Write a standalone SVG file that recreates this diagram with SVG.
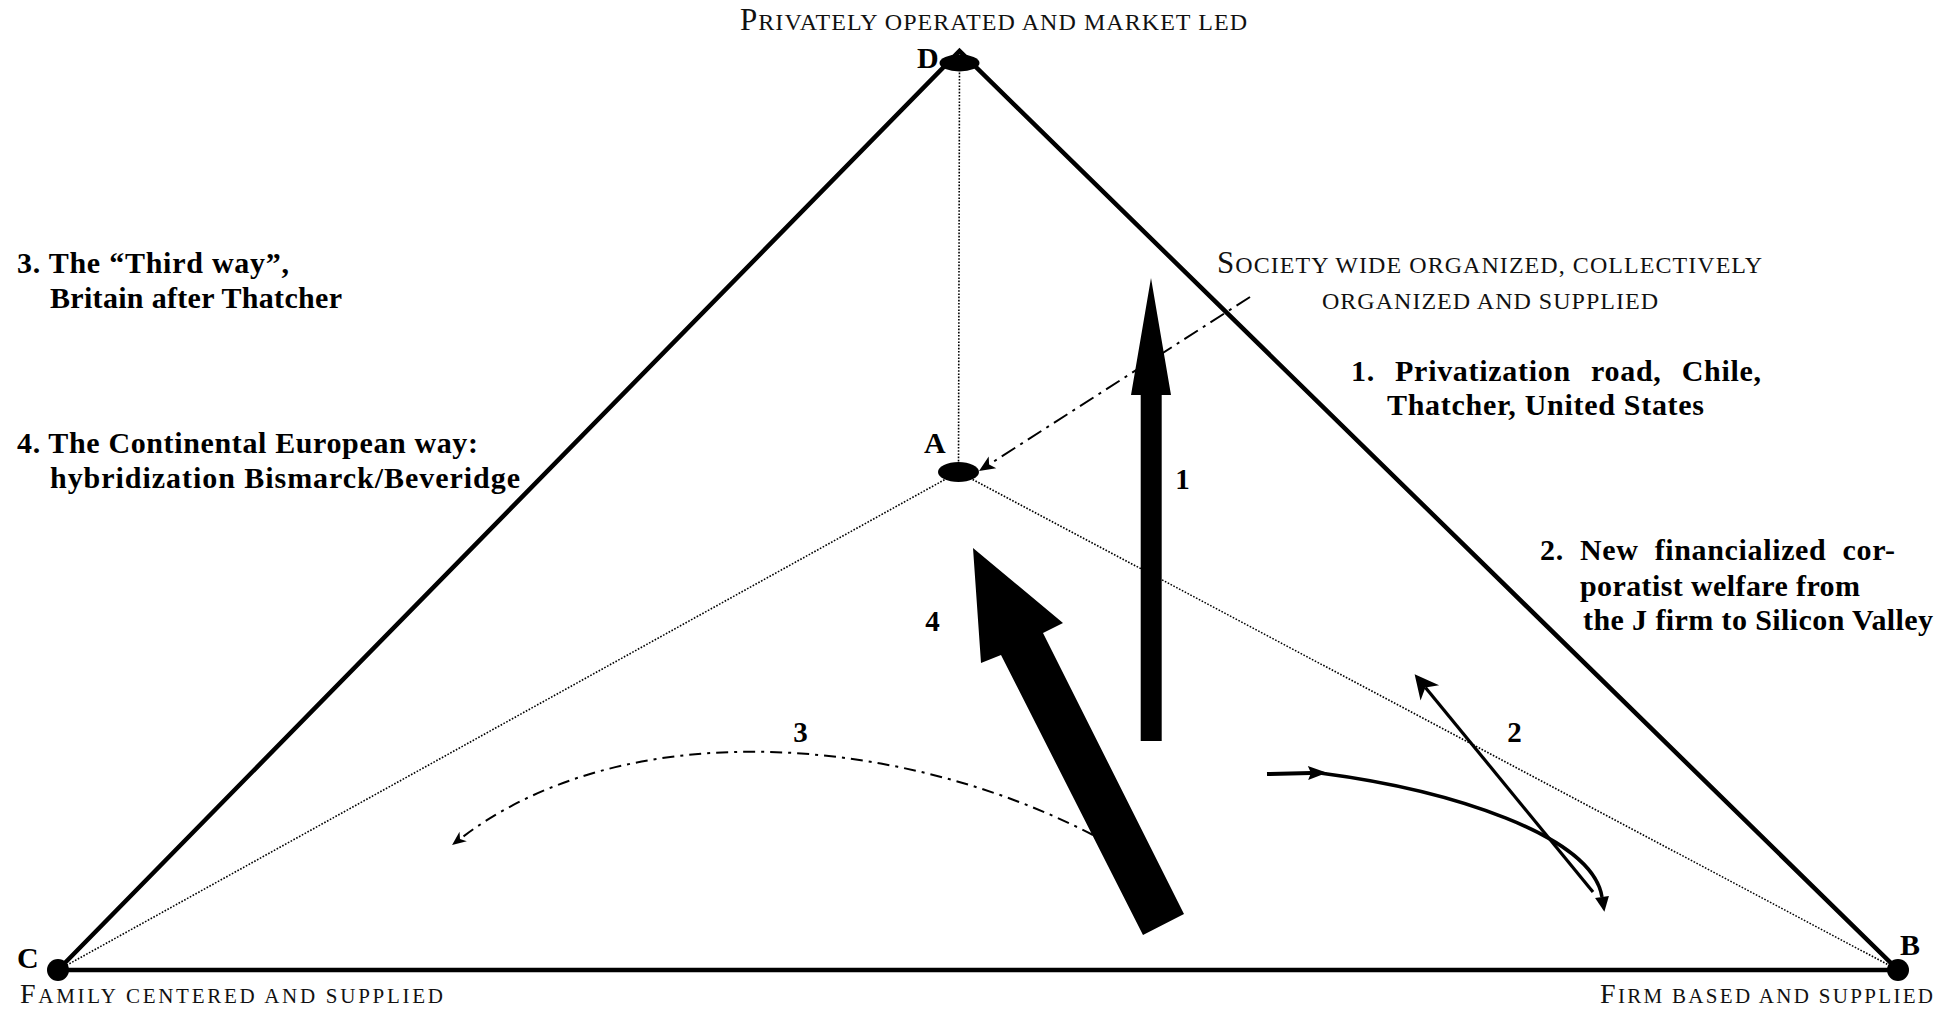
<svg xmlns="http://www.w3.org/2000/svg" width="1959" height="1010" viewBox="0 0 1959 1010">
<style>
.edge{stroke:#000;stroke-width:4.5;fill:none;stroke-linejoin:miter;stroke-miterlimit:10}
.dot{stroke:#000;stroke-width:1.6;stroke-dasharray:1.6 1.6;fill:none}
.dd{stroke:#000;stroke-width:2;fill:none}
.solid{stroke:#000;fill:none}
.big{fill:#000;stroke:none}
.node{fill:#000;stroke:none}
.lbl{font-family:"Liberation Serif","Times New Roman",serif;font-weight:bold;font-size:30px;fill:#000}
.num{font-family:"Liberation Serif","Times New Roman",serif;font-weight:bold;font-size:29px;fill:#000;text-anchor:middle}
.sc{font-family:"Liberation Serif","Times New Roman",serif;fill:#111}
.head{fill:#000;stroke:none}
</style>
<defs>
<marker id="mA" markerUnits="userSpaceOnUse" orient="auto" viewBox="-1 -8 18 16" markerWidth="18" markerHeight="16" refX="4" refY="0"><path class="head" d="M16,0 L0,-7 L4,0 L0,7 Z"/></marker>
<marker id="m3" markerUnits="userSpaceOnUse" orient="auto" viewBox="-1 -7 16 14" markerWidth="16" markerHeight="14" refX="4" refY="0"><path class="head" d="M14,0 L0,-6 L4,0 L0,6 Z"/></marker>
<marker id="m2" markerUnits="userSpaceOnUse" orient="auto" viewBox="-1 -13 26 26" markerWidth="26" markerHeight="26" refX="7" refY="0"><path class="head" d="M24,0 L0,-12 L7,0 L0,12 Z"/></marker>
<marker id="mH" markerUnits="userSpaceOnUse" orient="auto" viewBox="-1 -8 21 16" markerWidth="21" markerHeight="16" refX="3" refY="0"><path class="head" d="M19,0 L0,-7 L3,0 L0,7 Z"/></marker>
<marker id="mC" markerUnits="userSpaceOnUse" orient="auto" viewBox="-1 -8 17 16" markerWidth="17" markerHeight="16" refX="0" refY="0"><path class="head" d="M15,0 L0,-7 L0,7 Z"/></marker>
</defs>
<rect width="1959" height="1010" fill="#fff"/>

<g id="connectors">
  <path class="edge" d="M58,970 L959.5,51 L1898,970 Z"/>
  <line class="dot" x1="959.5" y1="63" x2="958.5" y2="472"/>
  <line class="dot" x1="958.5" y1="472" x2="58" y2="970"/>
  <line class="dot" x1="958.5" y1="472" x2="1898" y2="970"/>
  <line class="dd" x1="1250" y1="297" x2="989.1" y2="464.5" stroke-dasharray="16 6 3 6" marker-end="url(#mA)"/>
  <polygon id="arrow1" class="big" points="1140.7,741 1140.7,395 1131,395 1151,278 1171,395 1161.7,395 1161.7,741"/>
  <polygon id="arrow4" class="big" points="973,548 1063,623 1043,633 1184,914 1143,935 1001,655 981,663"/>
  <path id="arrow3" class="dd" d="M1093,835 C900,735 625,712 460,839" stroke-dasharray="12 6 3 6" marker-end="url(#m3)"/>
  <line id="arrow2" class="solid" stroke-width="3.2" x1="1593" y1="892" x2="1425.4" y2="687.4" marker-end="url(#m2)"/>
  <line class="solid" stroke-width="4" x1="1267" y1="774" x2="1311" y2="773" marker-end="url(#mH)"/>
  <path class="solid" stroke-width="3.5" d="M1320,773 C1450,790 1592,835 1602,897" marker-end="url(#mC)"/>
</g>

<g id="node-D">
  <ellipse class="node" cx="959.5" cy="63" rx="20" ry="8.5"/>
  <text class="lbl" x="917" y="68" font-size="29">D</text>
</g>
<g id="node-A">
  <ellipse class="node" cx="958.5" cy="472" rx="20.5" ry="10"/>
  <text class="lbl" x="924" y="453" font-size="29">A</text>
</g>
<g id="node-C">
  <circle class="node" cx="58" cy="970" r="11"/>
  <text class="lbl" x="17" y="968" font-size="29">C</text>
</g>
<g id="node-B">
  <circle class="node" cx="1898" cy="970" r="11"/>
  <text class="lbl" x="1900" y="955" font-size="29">B</text>
</g>

<g id="pole-labels">
  <text class="sc" x="740" y="30" font-size="31" textLength="507" lengthAdjust="spacing">P<tspan font-size="24">RIVATELY OPERATED AND MARKET LED</tspan></text>
  <text class="sc" x="1217" y="273" font-size="31" textLength="545" lengthAdjust="spacing">S<tspan font-size="24">OCIETY WIDE ORGANIZED, COLLECTIVELY</tspan></text>
  <text class="sc" x="1322" y="309" font-size="24" textLength="336" lengthAdjust="spacing">ORGANIZED AND SUPPLIED</text>
  <text class="sc" x="20" y="1003" font-size="28" textLength="423" lengthAdjust="spacing">F<tspan font-size="21">AMILY CENTERED AND SUPPLIED</tspan></text>
  <text class="sc" x="1600" y="1003" font-size="28" textLength="333" lengthAdjust="spacing">F<tspan font-size="21">IRM BASED AND SUPPLIED</tspan></text>
</g>

<g id="route-labels">
  <text class="lbl" x="17" y="273" textLength="272" lengthAdjust="spacing">3. The “Third way”,</text>
  <text class="lbl" x="50" y="308" textLength="292" lengthAdjust="spacing">Britain after Thatcher</text>
  <text class="lbl" x="17" y="453" textLength="461" lengthAdjust="spacing">4. The Continental European way:</text>
  <text class="lbl" x="50" y="488" textLength="470" lengthAdjust="spacing">hybridization Bismarck/Beveridge</text>
  <text class="lbl" x="1351" y="381" word-spacing="12" textLength="410" lengthAdjust="spacing">1. Privatization road, Chile,</text>
  <text class="lbl" x="1387" y="415" textLength="317" lengthAdjust="spacing">Thatcher, United States</text>
  <text class="lbl" x="1540" y="560" word-spacing="8" textLength="355" lengthAdjust="spacing">2. New financialized cor-</text>
  <text class="lbl" x="1580" y="596" textLength="280" lengthAdjust="spacing">poratist welfare from</text>
  <text class="lbl" x="1583" y="630" textLength="350" lengthAdjust="spacing">the J firm to Silicon Valley</text>
</g>

<g id="arrow-numbers">
  <text class="num" x="1182.5" y="489">1</text>
  <text class="num" x="1514.5" y="742">2</text>
  <text class="num" x="800.5" y="742">3</text>
  <text class="num" x="932.5" y="631">4</text>
</g>
</svg>
